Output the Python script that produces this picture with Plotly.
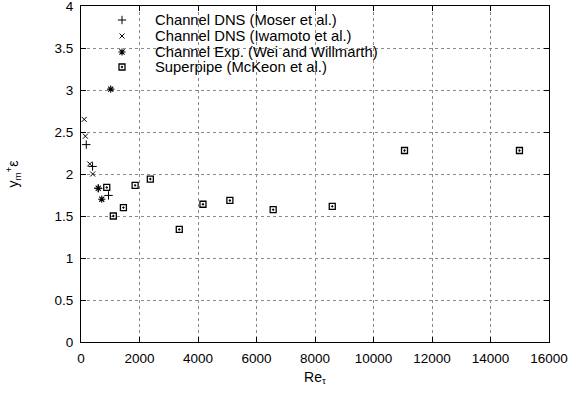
import plotly.graph_objects as go

# Re_tau and y_m^+ epsilon for each data set
moser_re = [180, 395, 590, 940]
moser_y = [2.35, 2.09, 1.83, 1.745]

iwamoto_re = [110, 150, 300, 400]
iwamoto_y = [2.65, 2.45, 2.12, 2.00]

exp_re = [590, 710, 1017]
exp_y = [1.83, 1.70, 3.01]

pipe_re = [880, 1105, 1450, 1850, 2370, 3360, 4170, 5090, 6570, 8590, 11060, 14990]
pipe_y = [1.84, 1.50, 1.60, 1.865, 1.94, 1.34, 1.64, 1.685, 1.575, 1.615, 2.28, 2.28]

series_names = [
    "Channel DNS (Moser et al.)",
    "Channel DNS (Iwamoto et al.)",
    "Channel Exp. (Wei and Willmarth)",
    "Superpipe (McKeon et al.)",
]

x_ticks = [0, 2000, 4000, 6000, 8000, 10000, 12000, 14000, 16000]
x_tick_text = ["0", "2000", "4000", "6000", "8000", "10000", "12000", "14000", "16000"]
y_ticks = [0, 0.5, 1, 1.5, 2, 2.5, 3, 3.5, 4]
y_tick_text = ["0", "0.5", "1", "1.5", "2", "2.5", "3", "3.5", "4"]

FONT = "Liberation Sans, Arial, sans-serif"
W, H = 574, 397
ML, MR, MT, MB = 81, 25, 6, 55
PW, PH = W - ML - MR, H - MT - MB

symbols = [
    dict(symbol="cross-thin", size=6, line=dict(width=1, color="black")),
    dict(symbol="x-thin", size=5, line=dict(width=1, color="black")),
    dict(symbol="asterisk", size=6, line=dict(width=1.1, color="black")),
    dict(symbol="square-open-dot", size=6, color="black", line=dict(width=1.3, color="black")),
]
data = [(moser_re, moser_y), (iwamoto_re, iwamoto_y), (exp_re, exp_y), (pipe_re, pipe_y)]

fig = go.Figure()
for (xs, ys), name, sym in zip(data, series_names, symbols):
    m = dict(color="black")
    m.update(sym)
    fig.add_trace(go.Scatter(x=xs, y=ys, mode="markers", name=name,
                             marker=m, showlegend=False))

# key: symbols on a pixel-unit overlay axis, labels as annotations
key_x = 41
key_text_x = 72
key_rows = [14, 30, 46, 61]
for row, name, sym in zip(key_rows, series_names, symbols):
    m = dict(color="black")
    m.update(sym)
    fig.add_trace(go.Scatter(x=[key_x], y=[PH - row], mode="markers", marker=m,
                             xaxis="x2", yaxis="y2", showlegend=False, hoverinfo="skip"))
    fig.add_annotation(x=key_text_x, y=PH - row, xref="x2", yref="y2", text=name,
                       showarrow=False, xanchor="left", yanchor="middle",
                       font=dict(family=FONT, size=14.8, color="black"))

# opaque key box hides the grid behind it
fig.add_shape(type="rect", xref="paper", yref="paper", x0=0.002, x1=0.81,
              y0=0.81, y1=0.997, fillcolor="white", line=dict(width=0), layer="between")

axis_common = dict(
    showline=True, linecolor="black", linewidth=1, mirror="allticks",
    ticks="inside", ticklen=5, tickcolor="black", tickwidth=1,
    showgrid=True, gridcolor="#8a8a8a", griddash="dot", gridwidth=1,
    zeroline=False, ticklabeloverflow="allow", automargin=False,
    tickfont=dict(family=FONT, size=13.5, color="black"),
)

fig.update_layout(
    width=W, height=H,
    margin=dict(l=ML, r=MR, t=MT, b=MB),
    paper_bgcolor="white", plot_bgcolor="white",
    font=dict(family=FONT, size=13.5, color="black"),
    xaxis=dict(range=[0, 16000], tickvals=x_ticks, ticktext=x_tick_text, ticklabelstandoff=4,
               title=dict(text="Re<sub>τ</sub>", standoff=6,
                          font=dict(family=FONT, size=14)),
               **axis_common),
    yaxis=dict(range=[0, 4], tickvals=y_ticks, ticktext=y_tick_text, ticklabelstandoff=4,
               title=dict(text="y<sub>m</sub><sup>+</sup>ε", standoff=32,
                          font=dict(family=FONT, size=14)),
               **axis_common),
    xaxis2=dict(range=[0, PW], overlaying="x", visible=False, fixedrange=True),
    yaxis2=dict(range=[0, PH], overlaying="y", visible=False, fixedrange=True),
    showlegend=False,
)

fig.write_html("out.html")
